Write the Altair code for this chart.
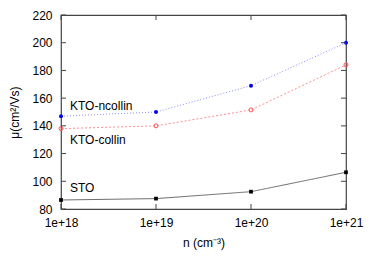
import altair as alt
import pandas as pd

n_values = [1e18, 1e19, 1e20, 1e21]
kto_ncollin = [147, 150, 169, 200]
kto_collin = [138, 140, 151.5, 184]
sto = [86.5, 87.5, 92.5, 106.5]

label_texts = ["KTO-ncollin", "KTO-collin", "STO"]
label_y = [154.5, 130, 95]

y_ticks = [80, 100, 120, 140, 160, 180, 200, 220]
x_ticks = [1e18, 1e19, 1e20, 1e21]

W, H = 285, 194
FONT = "Liberation Sans"

xs = alt.Scale(type="log", domain=[1e18, 1e21], nice=False)
ys = alt.Scale(domain=[80, 220], nice=False, zero=False)

xaxis = alt.Axis(values=x_ticks, labelExpr="'1e+' + round(log(datum.value)/LN10)",
                 grid=False, ticks=False, domain=False, labelPadding=8,
                 labelOverlap=False, labelFlush=False, labelBound=False,
                 labelFontSize=12, labelFont=FONT, labelColor="black",
                 title="n (cm⁻³)", titleFont=FONT, titleFontSize=12,
                 titleFontWeight="normal", titlePadding=9, titleColor="black")
yaxis = alt.Axis(values=y_ticks, grid=False, ticks=False, domain=False, labelPadding=9,
                 labelOverlap=False, labelFlush=False, labelBound=False,
                 labelFontSize=12, labelFont=FONT, labelColor="black",
                 title="μ(cm²/Vs)", titleFont=FONT, titleFontSize=12,
                 titleFontWeight="normal", titlePadding=10, titleColor="black")

def X(field):
    return alt.X(field, scale=xs, axis=xaxis)

def Y(field):
    return alt.Y(field, scale=ys, axis=yaxis)

def series_df(vals):
    return pd.DataFrame({"n": n_values, "mu": vals})

def line_layer(vals, color, dash, width, opacity):
    return alt.Chart(series_df(vals)).mark_line(
        color=color, strokeDash=dash, strokeWidth=width, opacity=opacity
    ).encode(x=X("n:Q"), y=Y("mu:Q"))

def point_layer(vals, shape, color, filled, size):
    return alt.Chart(series_df(vals)).mark_point(
        shape=shape, color=color, filled=filled, size=size, opacity=1, strokeWidth=1
    ).encode(x=X("n:Q"), y=Y("mu:Q"))

layers = [
    line_layer(sto, "#333333", [1, 0], 0.8, 0.9),
    point_layer(sto, "square", "black", True, 14),
    line_layer(kto_collin, "#ff6060", [2, 2], 1, 0.7),
    point_layer(kto_collin, "circle", "#ff5050", False, 16),
    line_layer(kto_ncollin, "#4040ff", [1, 2], 1, 0.6),
    point_layer(kto_ncollin, "circle", "#0000ff", True, 16),
]

labels_df = pd.DataFrame({"n": [1e18] * 3, "mu": label_y, "t": label_texts})
labels = alt.Chart(labels_df).mark_text(
    align="left", baseline="middle", dx=9, font=FONT, fontSize=12, color="black"
).encode(x=X("n:Q"), y=Y("mu:Q"), text="t:N")

# inward ticks (gnuplot style) on all four sides
yt = pd.DataFrame({"v": y_ticks})
xt = pd.DataFrame({"v": x_ticks})
tick_color = "#444444"
tl = alt.Chart(yt).mark_rule(color=tick_color, strokeWidth=1).encode(
    y=Y("v:Q"), x=alt.value(0), x2=alt.value(5))
tr = alt.Chart(yt).mark_rule(color=tick_color, strokeWidth=1).encode(
    y=Y("v:Q"), x=alt.value(W - 5), x2=alt.value(W))
tb = alt.Chart(xt).mark_rule(color=tick_color, strokeWidth=1).encode(
    x=X("v:Q"), y=alt.value(H - 5), y2=alt.value(H))
tt = alt.Chart(xt).mark_rule(color=tick_color, strokeWidth=1).encode(
    x=X("v:Q"), y=alt.value(0), y2=alt.value(5))

chart = alt.layer(*layers, labels, tl, tr, tb, tt).properties(
    width=W, height=H,
    autosize=alt.AutoSizeParams(type="none"),
    padding={"left": 53, "top": 7, "right": 20, "bottom": 45},
).configure_view(stroke="#444444", strokeWidth=1.2)

chart.save("out.html", embed_options={"renderer": "svg", "actions": False})
